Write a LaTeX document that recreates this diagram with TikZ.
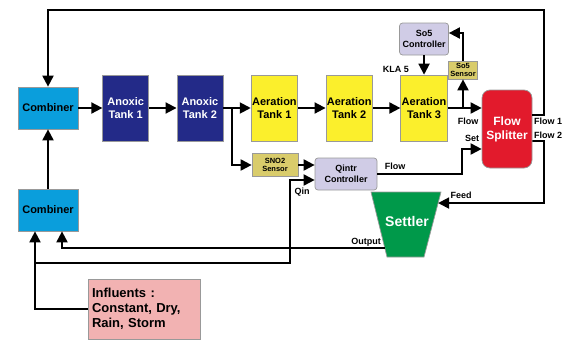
\documentclass[tikz,border=0pt]{standalone}
\usepackage{fontspec}
\setmainfont{Liberation Sans}
\usetikzlibrary{arrows.meta, positioning, calc}
\definecolor{combcol}{HTML}{0A9EDC}
\definecolor{anoxcol}{HTML}{232A88}
\definecolor{aercol}{HTML}{FBEF2C}
\definecolor{senscol}{HTML}{D9CC6B}
\definecolor{ctrlcol}{HTML}{D0CCE6}
\definecolor{splitcol}{HTML}{E21A2C}
\definecolor{settcol}{HTML}{00994A}
\definecolor{inflcol}{HTML}{F2B2B2}

\begin{document}
\begin{tikzpicture}[x=1pt, y=-1pt, >={Triangle[length=11pt,width=11pt]},
  node distance=27.5pt,
  box/.style={draw=black!40, line width=0.7pt, inner sep=1pt, align=center,
    font=\bfseries\fontsize{11}{12.5}\selectfont},
  combbox/.style={box, fill=combcol, minimum width=60pt, minimum height=42pt},
  anoxbox/.style={box, fill=anoxcol, text=white, minimum width=46pt, minimum height=66pt},
  aerbox/.style={box, fill=aercol, minimum width=46pt, minimum height=66pt},
  sensbox/.style={box, fill=senscol, font=\bfseries\fontsize{7.5}{8.5}\selectfont},
  ctrlbox/.style={box, fill=ctrlcol, rounded corners=3pt, font=\bfseries\fontsize{9}{10.5}\selectfont},
  lbl/.style={font=\bfseries\fontsize{9}{10}\selectfont, inner sep=0pt},
  flow/.style={->, line width=1.9pt}]
  \useasboundingbox (0,0) rectangle (565,340);

  % tanks in a row
  \node[combbox] (comb1) at (48,108) {Combiner};
  \node[anoxbox, right=24pt of comb1] (an1) {Anoxic\\Tank 1};
  \node[anoxbox, right=of an1] (an2) {Anoxic\\Tank 2};
  \node[aerbox, right=of an2] (aer1) {Aeration\\Tank 1};
  \node[aerbox, right=of aer1] (aer2) {Aeration\\Tank 2};
  \node[aerbox, right=of aer2] (aer3) {Aeration\\Tank 3};

  % control loop
  \node[ctrlbox, minimum width=49pt, minimum height=32pt] (so5c) at (aer3 |- 0,39) {So5\\Controller};
  \node[sensbox, minimum width=29pt, minimum height=18pt] (so5s) at (463,70) {So5\\Sensor};
  \node[box, fill=splitcol, text=white, rounded corners=8pt, minimum width=50pt,
    minimum height=78pt, font=\bfseries\fontsize{12}{14}\selectfont] (split) at (507,129) {Flow\\Splitter};
  \node[sensbox, minimum width=46pt, minimum height=23pt] (sno2) at (275,165) {SNO2\\Sensor};
  \node[ctrlbox, minimum width=62pt, minimum height=32pt] (qintr) at (346,174) {Qintr\\Controller};
  \node[combbox] (comb2) at (48,210) {Combiner};
  \node[box, fill=inflcol, minimum width=112pt, minimum height=60pt, text width=104pt,
    align=left, font=\bfseries\fontsize{13}{15}\selectfont] (infl) at (144,309) {Influents :\\Constant, Dry,\\Rain, Storm};

  % settler
  \coordinate (stl) at (371,192);
  \coordinate (str) at (441,192);
  \coordinate (sbr) at (424,257);
  \coordinate (sbl) at (387,257);
  \fill[settcol, draw=black!40, line width=0.7pt] (stl) -- (str) -- (sbr) -- (sbl) -- cycle;
  \node[text=white, font=\bfseries\fontsize{14}{16}\selectfont] (settler) at (407,221) {Settler};
  \coordinate (feed) at ($(str)!0.17!(sbr)$);
  \coordinate (outp) at ($(stl)!0.86!(sbl)$);
  \coordinate (inj) at (35,263);

  \draw[flow] (comb1) -- (an1);
  \draw[flow] (an1) -- (an2);
  \draw[flow] (an2) -- (aer1);
  \draw[flow] (aer1) -- (aer2);
  \draw[flow] (aer2) -- (aer3);
  \draw[flow] (aer3) -- (aer3 -| split.west);
  \draw[flow] (aer3 -| so5s) -- (so5s);
  \draw[flow] (so5s) |- ([yshift=6pt]so5c.east);
  \draw[flow] (so5c) -- (aer3);
  \draw[flow] ([yshift=14pt]split.east) -| (544,10) -| (comb1);
  \draw[flow] ([yshift=-12pt]split.east) -| (544,203) -- (feed);
  \draw[flow] ([xshift=9pt]an2.east) |- (sno2);
  \draw[flow] (sno2) -- (sno2 -| qintr.west);
  \draw[flow] (qintr.east) -| ([xshift=-20pt,yshift=-20pt]split.west) -- ([yshift=-20pt]split.west);
  \draw[flow] (outp) -| ([xshift=14pt]comb2.south);
  \draw[flow] (infl) -| ([xshift=-13pt]comb2.south);
  \draw[flow] (inj) -| ([xshift=-25pt,yshift=-6pt]qintr.west) -- ([yshift=-6pt]qintr.west);
  \draw[flow] (comb2) -- (comb1);

  % labels
  \node[lbl, anchor=east] (kla) at (409,69) {KLA 5};
  \node[lbl] (lflow) at (468,121) {Flow};
  \node[lbl] (lset) at (472,138) {Set};
  \node[lbl] (lf1) at (548,121) {Flow 1};
  \node[lbl] (lf2) at (548,135) {Flow 2};
  \node[lbl] (lqf) at (395,166) {Flow};
  \node[lbl] (lqin) at (302,192) {Qin};
  \node[lbl] (lfeed) at (461,195) {Feed};
  \node[lbl] (lout) at (366,242) {Output};
\end{tikzpicture}
\end{document}
